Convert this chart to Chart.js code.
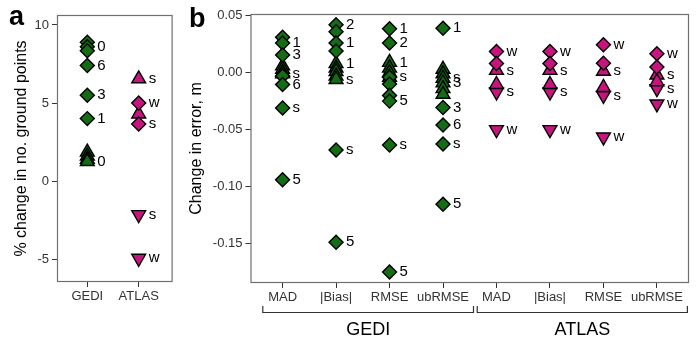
<!DOCTYPE html>
<html>
<head>
<meta charset="utf-8">
<script src="https://cdn.jsdelivr.net/npm/chart.js@4.4.1/dist/chart.umd.min.js"></script>
<style>
  body { margin: 0; background: #fff; width: 700px; height: 342px; overflow: hidden; position: relative; }
  #wa { position: absolute; left: 0; top: 0; width: 182px; height: 342px; }
  #wb { position: absolute; left: 182px; top: 0; width: 518px; height: 342px; }
</style>
</head>
<body>
<div id="wa"><canvas id="ca"></canvas></div>
<div id="wb"><canvas id="cb"></canvas></div>
<script>
// ---- panel a: % change in no. ground points ----
const aCategories = ['GEDI', 'ATLAS'];
const aTicks = [-5, 0, 5, 10];
const aTickLabels = ['-5', '0', '5', '10'];

const aGediDiamondY = [8.9, 8.6, 8.35, 7.4, 5.5, 4.0];
const aGediDiamondLab = ['', '0', '', '6', '3', '1'];
const aGediTriUpY = [1.85, 1.6, 1.4, 1.25];
const aGediTriUpLab = ['', '', '', '0'];
const aAtlasDiamondY = [5.0, 3.65];
const aAtlasDiamondLab = ['w', 's'];
const aAtlasTriUpY = [6.55, 4.3];
const aAtlasTriUpLab = ['s', ''];
const aAtlasTriDownY = [-2.15, -4.95];
const aAtlasTriDownLab = ['s', 'w'];

// ---- panel b: change in error, m ----
const bCategories = ['MAD', '|Bias|', 'RMSE', 'ubRMSE', 'MAD', '|Bias|', 'RMSE', 'ubRMSE'];
const bTicks = [-0.15, -0.10, -0.05, 0.00, 0.05];
const bTickLabels = ['-0.15', '-0.10', '-0.05', '0.00', '0.05'];
const bGroups = ['GEDI', 'ATLAS'];

const gediDiamondX = [0, 0, 0, 0, 0, 0, 0, 1, 1, 1, 1, 1, 1, 2, 2, 2, 2, 2, 2, 2, 2, 3, 3, 3, 3, 3];
const gediDiamondY = [0.031, 0.026, 0.0156, -0.003, -0.0105, -0.031, -0.094,
                      0.042, 0.036, 0.026, 0.019, -0.068, -0.149,
                      0.0385, 0.026, -0.004, -0.010, -0.020, -0.025, -0.0636, -0.175,
                      0.039, -0.0305, -0.046, -0.0627, -0.1155];
const gediDiamondLab = ['', '1', '3', '', '6', 's', '5',
                        '2', '', '1', '', 's', '5',
                        '1', '2', '', '', '', '5', 's', '5',
                        '1', '3', '6', 's', '5'];
const gediTriUpX = [0, 0, 0, 0, 1, 1, 1, 1, 1, 2, 2, 2, 2, 3, 3, 3, 3, 3, 3];
const gediTriUpY = [0.006, 0.003, 0.000, -0.001,
                    0.008, 0.004, 0.001, -0.003, -0.006,
                    0.009, 0.004, 0.000, -0.004,
                    0.003, -0.001, -0.005, -0.009, -0.014, -0.019];
const gediTriUpLab = ['', '', '', 's', '1', '', '', '', 's', '1', '', '', 's', '', '', 's', '3', '', ''];

const atlasDiamondX = [4, 4, 5, 5, 6, 6, 7, 7];
const atlasDiamondY = [0.0185, 0.008, 0.0185, 0.008, 0.0244, 0.0083, 0.0165, 0.005];
const atlasDiamondLab = ['w', '', 'w', '', 'w', '', 'w', ''];
const atlasTriUpX = [4, 4, 5, 5, 6, 6, 7, 7];
const atlasTriUpY = [0.002, -0.0104, 0.002, -0.0104, 0.0012, -0.013, -0.002, -0.008];
const atlasTriUpLab = ['s', '', 's', '', 's', '', 's', ''];
const atlasTriDownX = [4, 4, 5, 5, 6, 6, 7, 7];
const atlasTriDownY = [-0.017, -0.050, -0.017, -0.050, -0.020, -0.0565, -0.014, -0.0275];
const atlasTriDownLab = ['s', 'w', 's', 'w', 's', 'w', 's', 'w'];

const GREEN = '#146c14';
const PINK = '#c8147f';
const FONT = '"Liberation Sans", Arial, sans-serif';
Chart.defaults.font.family = FONT;

function series(xs, ys, labs, shape, color) {
  const down = shape === 'down';
  const r = shape === 'diamond' ? 7 : 8;
  return {
    data: ys.map((y, i) => ({ x: xs[i], y: y })),
    labels: labs,
    pointStyle: shape === 'diamond' ? 'rectRot' : 'triangle',
    pointRotation: down ? 180 : 0,
    pointRadius: r,
    pointHoverRadius: r,
    backgroundColor: color,
    borderColor: '#000',
    borderWidth: 1.4,
    showLine: false
  };
}

function yScale(min, max, ticks, tickLabels, width, title, titlePad) {
  return {
    type: 'linear', min: min, max: max,
    afterBuildTicks: s => { s.ticks = ticks.map(v => ({ value: v })); },
    afterFit: s => { s.width = width; },
    grid: { drawOnChartArea: false, drawTicks: true, tickLength: 5, color: '#333' },
    border: { display: false },
    ticks: { autoSkip: false, color: '#333', font: { size: 13 }, padding: 3,
             callback: (v, i) => tickLabels[i] },
    title: { display: true, text: title, color: '#000', font: { size: 16 },
             padding: { top: titlePad, bottom: 0 } }
  };
}

function xScale(min, max, cats, height) {
  return {
    type: 'linear', min: min, max: max,
    afterBuildTicks: s => { s.ticks = cats.map((c, i) => ({ value: i })); },
    afterFit: s => { s.height = height; },
    grid: { drawOnChartArea: false, drawTicks: true, tickLength: 5, color: '#333' },
    border: { display: false },
    ticks: { autoSkip: false, maxRotation: 0, color: '#333', font: { size: 13 }, padding: 2,
             callback: (v, i) => cats[i] }
  };
}

const framePlugin = {
  id: 'frame',
  beforeDatasetsDraw(chart) {
    const a = chart.chartArea, ctx = chart.ctx;
    ctx.save();
    ctx.strokeStyle = '#6f6f6f';
    ctx.lineWidth = 1.2;
    ctx.strokeRect(a.left + 0.5, a.top + 0.5, a.right - a.left - 1, a.bottom - a.top - 1);
    ctx.restore();
  }
};

const labelPlugin = {
  id: 'pointLabels',
  afterDatasetsDraw(chart) {
    const ctx = chart.ctx;
    ctx.save();
    ctx.font = '15px ' + FONT;
    ctx.fillStyle = '#000';
    ctx.textBaseline = 'middle';
    ctx.textAlign = 'left';
    chart.data.datasets.forEach((ds, di) => {
      chart.getDatasetMeta(di).data.forEach((el, i) => {
        const t = ds.labels[i];
        if (t) ctx.fillText(t, el.x + 10, el.y);
      });
    });
    ctx.restore();
  }
};

function letterPlugin(letter, x, y) {
  return {
    id: 'letter',
    afterDraw(chart) {
      const ctx = chart.ctx;
      ctx.save();
      ctx.font = 'bold 27px ' + FONT;
      ctx.fillStyle = '#000';
      ctx.textBaseline = 'alphabetic';
      ctx.fillText(letter, x, y);
      ctx.restore();
    }
  };
}

const bracketPlugin = {
  id: 'brackets',
  afterDraw(chart) {
    const ctx = chart.ctx, sx = chart.scales.x;
    const spans = [[-0.37, 3.57], [3.64, 7.57]];
    ctx.save();
    ctx.strokeStyle = '#333';
    ctx.lineWidth = 1.2;
    ctx.fillStyle = '#000';
    ctx.font = '18px ' + FONT;
    ctx.textAlign = 'center';
    ctx.textBaseline = 'middle';
    spans.forEach((sp, g) => {
      const x0 = sx.getPixelForValue(sp[0]), x1 = sx.getPixelForValue(sp[1]);
      ctx.beginPath();
      ctx.moveTo(x0, 306); ctx.lineTo(x0, 312.5); ctx.lineTo(x1, 312.5); ctx.lineTo(x1, 306);
      ctx.stroke();
      ctx.fillText(bGroups[g], (x0 + x1) / 2, 330);
    });
    ctx.restore();
  }
};

const common = {
  responsive: true,
  maintainAspectRatio: false,
  animation: false,
  events: [],
  plugins: { legend: { display: false }, tooltip: { enabled: false } }
};

new Chart(document.getElementById('ca'), {
  type: 'scatter',
  data: {
    datasets: [
      series(aGediDiamondY.map(() => 0), aGediDiamondY, aGediDiamondLab, 'diamond', GREEN),
      series(aGediTriUpY.map(() => 0), aGediTriUpY, aGediTriUpLab, 'up', GREEN),
      series(aAtlasDiamondY.map(() => 1), aAtlasDiamondY, aAtlasDiamondLab, 'diamond', PINK),
      series(aAtlasTriUpY.map(() => 1), aAtlasTriUpY, aAtlasTriUpLab, 'up', PINK),
      series(aAtlasTriDownY.map(() => 1), aAtlasTriDownY, aAtlasTriDownLab, 'down', PINK)
    ]
  },
  options: Object.assign({}, common, {
    layout: { padding: { top: 15, right: 8, left: 0, bottom: 0 } },
    scales: {
      x: xScale(-0.59, 1.66, aCategories, 60),
      y: yScale(-6.47, 10.64, aTicks, aTickLabels, 57, '% change in no. ground points', 12)
    }
  }),
  plugins: [framePlugin, labelPlugin, letterPlugin('a', 9, 25)]
});

new Chart(document.getElementById('cb'), {
  type: 'scatter',
  data: {
    datasets: [
      series(gediDiamondX, gediDiamondY, gediDiamondLab, 'diamond', GREEN),
      series(gediTriUpX, gediTriUpY, gediTriUpLab, 'up', GREEN),
      series(atlasDiamondX, atlasDiamondY, atlasDiamondLab, 'diamond', PINK),
      series(atlasTriUpX, atlasTriUpY, atlasTriUpLab, 'up', PINK),
      series(atlasTriDownX, atlasTriDownY, atlasTriDownLab, 'down', PINK)
    ]
  },
  options: Object.assign({}, common, {
    layout: { padding: { top: 14, right: 11, left: 0, bottom: 0 } },
    scales: {
      x: xScale(-0.6, 7.6, bCategories, 59),
      y: yScale(-0.1847, 0.0515, bTicks, bTickLabels, 68.5, 'Change in error, m', 5)
    }
  }),
  plugins: [framePlugin, labelPlugin, bracketPlugin, letterPlugin('b', 7, 27)]
});
</script>
</body>
</html>
